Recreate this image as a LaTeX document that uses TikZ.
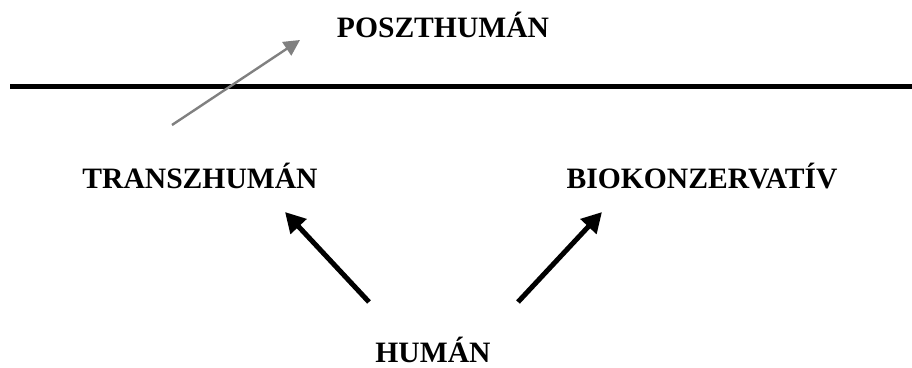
\documentclass[tikz,border=0pt]{standalone}
\usepackage{fontspec}
\setmainfont{Liberation Serif}
\usetikzlibrary{arrows.meta}
\tikzset{
  lbl/.style={font=\fontsize{29.6}{34}\selectfont\bfseries, anchor=base, inner sep=0pt},
  blackarrow/.style={line width=5pt, -{Triangle[length=20pt,width=21pt]}},
  grayarrow/.style={draw={rgb,255:red,128;green,128;blue,128}, line width=2.4pt, -{Triangle[length=16pt,width=16pt]}},
  divider/.style={line width=5pt}
}
\begin{document}
\begin{tikzpicture}[x=1pt,y=-1pt]
\useasboundingbox (0,0) rectangle (912,367);
\node[lbl] (post) at (443,37) {POSZTHUMÁN};
\node[lbl] (trans) at (200,188) {TRANSZHUMÁN};
\node[lbl] (bio) at (702,188) {BIOKONZERVATÍV};
\node[lbl] (hum) at (433,362) {HUMÁN};
\coordinate (lineL) at (10,86);
\coordinate (lineR) at (912,86);
\draw[divider] (lineL) -- (lineR);
\coordinate (gs) at (172,125);
\coordinate (ge) at (300,40);
\draw[grayarrow] (gs) -- (ge);
\coordinate (ls) at (369,302);
\coordinate (le) at (285,212);
\draw[blackarrow] (ls) -- (le);
\coordinate (rs) at (518,302);
\coordinate (re) at (602,212);
\draw[blackarrow] (rs) -- (re);
\end{tikzpicture}
\end{document}
